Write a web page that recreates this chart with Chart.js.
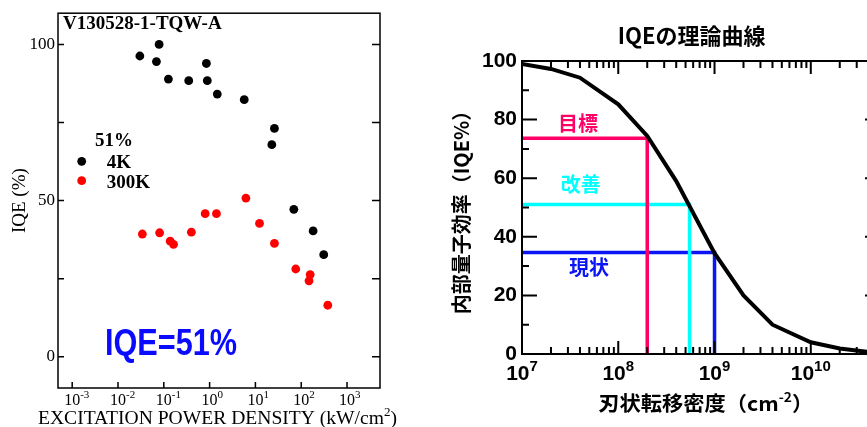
<!DOCTYPE html>
<html>
<head>
<meta charset="utf-8">
<script src="https://cdn.jsdelivr.net/npm/chart.js@4.4.1/dist/chart.umd.min.js"></script>
<style>
  html, body { margin: 0; padding: 0; background: #fff; }
  body { width: 867px; height: 427px; position: relative; overflow: hidden; }
  #chart-left { position: absolute; left: 0; top: 0; }
  #chart-right { position: absolute; left: 430px; top: 0; }
</style>
</head>
<body>
<canvas id="chart-left" width="430" height="427"></canvas>
<canvas id="chart-right" width="451" height="427"></canvas>
<script>
// 左: 励起強度依存のIQE (kW/cm2, %)
const excit4K = [0.03, 0.069, 0.079, 0.126, 0.35, 0.85, 0.89, 1.47, 5.7, 26, 22.8, 69, 182, 310];
const iqe4K = [96.3, 94.5, 100, 88.9, 88.4, 93.9, 88.4, 84.1, 82.3, 73.1, 67.9, 47.2, 40.3, 32.7];
const excit300K = [0.034, 0.081, 0.138, 0.163, 0.40, 0.80, 1.41, 6.2, 12.3, 26, 76, 157, 148, 380];
const iqe300K = [39.3, 39.7, 37.0, 36.0, 39.9, 45.8, 45.8, 50.8, 42.7, 36.3, 28.1, 26.3, 24.3, 16.5];
const leftXExp = [-3, -2, -1, 0, 1, 2, 3];
const leftYTicks = [0, 25, 50, 75, 100];

// 右: IQEの理論曲線 (cm-2, %)
const dislocation = [1e7, 2e7, 4e7, 1e8, 2e8, 4e8, 1e9, 2e9, 4e9, 1e10, 2e10, 4e10];
const iqeTheory = [99, 97.3, 94.3, 85.2, 74.4, 59, 34.4, 20, 10, 4, 1.9, 0.7];
const levelNames = ['目標', '改善', '現状'];
const levelIqe = [73.6, 51, 34.6];
const levelDensity = [2e8, 5.5e8, 1e9];
const levelColors = ['#ff0066', '#00ffff', '#0a14f5'];
const densityMin = 1e7;
const rightXExp = [7, 8, 9, 10];
const rightYTicks = [0, 10, 20, 30, 40, 50, 60, 70, 80, 90, 100];

const SERIF = '"Liberation Serif", "Times New Roman", serif';
const SANS = '"Liberation Sans", Arial, sans-serif';
const CJK = '"Noto Sans CJK JP", "Noto Sans", sans-serif';

// 枠・内向きの目盛り・10のべき乗ラベル
const framePlugin = {
    id: 'frame',
    afterDatasetsDraw(chart, args, o) {
        const { ctx, chartArea: a } = chart;
        const sx = chart.scales.x, sy = chart.scales.y;
        ctx.save();
        ctx.strokeStyle = o.color;
        ctx.lineWidth = o.width;
        ctx.strokeRect(a.left, a.top, a.right - a.left, a.bottom - a.top);
        ctx.beginPath();
        for (const t of o.yTicks) {
            const y = sy.getPixelForValue(t.value);
            if (t.left) { ctx.moveTo(a.left, y); ctx.lineTo(a.left + t.left, y); }
            if (t.right) { ctx.moveTo(a.right, y); ctx.lineTo(a.right - t.right, y); }
        }
        for (const t of o.xTicks) {
            const x = sx.getPixelForValue(t.value);
            if (t.bottom) { ctx.moveTo(x, a.bottom); ctx.lineTo(x, a.bottom - t.bottom); }
            if (t.top) { ctx.moveTo(x, a.top); ctx.lineTo(x, a.top + t.top); }
        }
        ctx.stroke();

        const L = o.xLabels;
        ctx.fillStyle = '#000';
        ctx.textBaseline = 'alphabetic';
        ctx.textAlign = 'left';
        for (const e of L.exps) {
            const x = sx.getPixelForValue(10 ** e);
            ctx.font = L.base;
            const wb = ctx.measureText('10').width;
            ctx.font = L.exp;
            const we = ctx.measureText(String(e)).width;
            const x0 = L.anchor === 'base' ? x - wb / 2 : x - (wb + we) / 2;
            ctx.font = L.base;
            ctx.fillText('10', x0, L.baseY);
            ctx.font = L.exp;
            ctx.fillText(String(e), x0 + wb, L.expY);
        }
        ctx.restore();
    }
};

// 注記テキスト（凡例・ラベル・軸タイトルなど）
const notesPlugin = {
    id: 'notes',
    afterDraw(chart, args, o) {
        const ctx = chart.ctx;
        ctx.save();
        ctx.textBaseline = 'alphabetic';
        ctx.textAlign = 'left';
        for (const d of o.dots || []) {
            ctx.fillStyle = d.color;
            ctx.beginPath();
            ctx.arc(d.x, d.y, d.r, 0, Math.PI * 2);
            ctx.fill();
        }
        for (const n of o.items || []) {
            let w = 0;
            for (const p of n.parts) {
                ctx.font = p.font;
                p.w = ctx.measureText(p.text).width;
                w += p.w;
            }
            const k = n.width ? n.width / w : 1;
            const x = n.align === 'center' ? n.x - (w * k) / 2 : n.x;
            ctx.fillStyle = n.color;
            ctx.save();
            ctx.translate(x, 0);
            ctx.scale(k, 1);
            let cx = 0;
            for (const p of n.parts) {
                ctx.font = p.font;
                ctx.fillText(p.text, cx, p.y);
                cx += p.w;
            }
            ctx.restore();
        }
        ctx.restore();
    }
};

new Chart(document.getElementById('chart-left'), {
    type: 'scatter',
    data: {
        datasets: [
            {
                label: '4K',
                data: excit4K.map((x, i) => ({ x, y: iqe4K[i] })),
                backgroundColor: '#000000',
                borderWidth: 0,
                pointRadius: 4.4
            },
            {
                label: '300K',
                data: excit300K.map((x, i) => ({ x, y: iqe300K[i] })),
                backgroundColor: '#ff0000',
                borderWidth: 0,
                pointRadius: 4.4
            }
        ]
    },
    options: {
        responsive: false,
        animation: false,
        layout: { padding: { top: 11, right: 50, left: 0, bottom: 0 } },
        scales: {
            x: {
                type: 'logarithmic',
                min: 10 ** -3.31,
                max: 10 ** 3.72,
                grid: { display: false, drawTicks: false },
                border: { display: false },
                ticks: { display: false },
                afterBuildTicks: s => { s.ticks = leftXExp.map(e => ({ value: 10 ** e })); },
                afterFit: s => { s.height = 39; }
            },
            y: {
                min: -10,
                max: 110,
                grid: { display: false, drawTicks: false },
                border: { display: false },
                afterBuildTicks: s => { s.ticks = leftYTicks.map(v => ({ value: v })); },
                afterFit: s => { s.width = 58; },
                ticks: {
                    autoSkip: false,
                    padding: 3,
                    color: '#000',
                    font: { family: SERIF, size: 17 },
                    callback: v => (v % 50 === 0 ? v : '')
                },
                title: {
                    display: true,
                    text: 'IQE (%)',
                    color: '#000',
                    font: { family: SERIF, size: 19, lineHeight: 1 },
                    padding: { top: 11 }
                }
            }
        },
        plugins: {
            legend: { display: false },
            tooltip: { enabled: false },
            frame: {
                color: '#000',
                width: 1.5,
                yTicks: leftYTicks.map(v => ({ value: v, left: 6, right: 8 })),
                xTicks: leftXExp.map(e => ({ value: 10 ** e, bottom: 6 })),
                xLabels: {
                    exps: leftXExp,
                    base: '16px ' + SERIF,
                    exp: '11px ' + SERIF,
                    baseY: 405,
                    expY: 398,
                    anchor: 'base'
                }
            },
            notes: {
                dots: [
                    { x: 81.7, y: 161.3, r: 4.4, color: '#000000' },
                    { x: 81.7, y: 180.7, r: 4.4, color: '#ff0000' }
                ],
                items: [
                    { x: 63, color: '#000', parts: [{ text: 'V130528-1-TQW-A', font: 'bold 19px ' + SERIF, y: 28.5 }] },
                    { x: 95, color: '#000', parts: [{ text: '51%', font: 'bold 19px ' + SERIF, y: 146 }] },
                    { x: 106.7, color: '#000', parts: [{ text: '4K', font: 'bold 19px ' + SERIF, y: 168 }] },
                    { x: 106.7, color: '#000', parts: [{ text: '300K', font: 'bold 19px ' + SERIF, y: 187.7 }] },
                    { x: 105, width: 132, color: '#0a0aff', parts: [{ text: 'IQE=51%', font: 'bold 36px "Liberation Sans Narrow", ' + SANS, y: 355 }] },
                    {
                        x: 217.5, align: 'center', width: 359, color: '#000', parts: [
                            { text: 'EXCITATION POWER DENSITY (kW/cm', font: '18px ' + SERIF, y: 424 },
                            { text: '2', font: '12px ' + SERIF, y: 416 },
                            { text: ')', font: '18px ' + SERIF, y: 424 }
                        ]
                    }
                ]
            }
        }
    },
    plugins: [framePlugin, notesPlugin]
});

const rightXTicks = [];
rightXExp.forEach(e => {
    rightXTicks.push({ value: 10 ** e, bottom: 13, top: 13 });
    for (let m = 2; m <= 9; m++) rightXTicks.push({ value: m * 10 ** e, bottom: 7, top: 7 });
});

new Chart(document.getElementById('chart-right'), {
    type: 'line',
    data: {
        datasets: [
            {
                label: '理論曲線',
                data: dislocation.map((x, i) => ({ x, y: iqeTheory[i] })),
                borderColor: '#000000',
                borderWidth: 4,
                pointRadius: 0,
                tension: 0
            },
            ...levelNames.map((name, i) => ({
                label: name,
                data: [
                    { x: densityMin, y: levelIqe[i] },
                    { x: levelDensity[i], y: levelIqe[i] },
                    { x: levelDensity[i], y: 0 }
                ],
                borderColor: levelColors[i],
                borderWidth: 3.5,
                pointRadius: 0,
                tension: 0
            }))
        ]
    },
    options: {
        responsive: false,
        animation: false,
        layout: { padding: { top: 61, right: 1, left: 0, bottom: 0 } },
        scales: {
            x: {
                type: 'logarithmic',
                min: densityMin,
                max: 10 ** 10.719,
                grid: { display: false, drawTicks: false },
                border: { display: false },
                ticks: { display: false },
                afterBuildTicks: s => { s.ticks = rightXExp.map(e => ({ value: 10 ** e })); },
                afterFit: s => { s.height = 73; }
            },
            y: {
                min: 0,
                max: 100,
                grid: { display: false, drawTicks: false },
                border: { display: false },
                afterBuildTicks: s => { s.ticks = rightYTicks.map(v => ({ value: v })); },
                afterFit: s => { s.width = 92; },
                ticks: {
                    autoSkip: false,
                    padding: 5,
                    color: '#000',
                    font: { family: SANS, size: 21, weight: 'bold' },
                    callback: v => (v % 20 === 0 ? v : '')
                },
                title: {
                    display: true,
                    text: '内部量子効率（IQE%）',
                    color: '#000',
                    font: { family: CJK, size: 20, weight: 'bold', lineHeight: 1 },
                    padding: { top: 21 }
                }
            }
        },
        plugins: {
            legend: { display: false },
            tooltip: { enabled: false },
            frame: {
                color: '#000',
                width: 2,
                yTicks: rightYTicks.map(v => (v % 20 === 0 ? { value: v, left: 15, right: 15 } : { value: v, left: 7, right: 7 })),
                xTicks: rightXTicks,
                xLabels: {
                    exps: rightXExp,
                    base: 'bold 21px ' + SANS,
                    exp: 'bold 15px ' + SANS,
                    baseY: 380,
                    expY: 371,
                    anchor: 'group'
                }
            },
            notes: {
                items: [
                    { x: 261.7, align: 'center', color: '#000', parts: [{ text: 'IQEの理論曲線', font: 'bold 22px ' + CJK, y: 44 }] },
                    { x: 148, align: 'center', color: levelColors[0], parts: [{ text: levelNames[0], font: 'bold 20px ' + CJK, y: 131 }] },
                    { x: 150.7, align: 'center', color: levelColors[1], parts: [{ text: levelNames[1], font: 'bold 20px ' + CJK, y: 192 }] },
                    { x: 159, align: 'center', color: levelColors[2], parts: [{ text: levelNames[2], font: 'bold 20px ' + CJK, y: 275 }] },
                    {
                        x: 275.7, align: 'center', width: 215, color: '#000', parts: [
                            { text: '刃状転移密度（cm', font: 'bold 20px ' + CJK, y: 411 },
                            { text: '-2', font: 'bold 13px ' + CJK, y: 402 },
                            { text: '）', font: 'bold 20px ' + CJK, y: 411 }
                        ]
                    }
                ]
            }
        }
    },
    plugins: [framePlugin, notesPlugin]
});
</script>
</body>
</html>
